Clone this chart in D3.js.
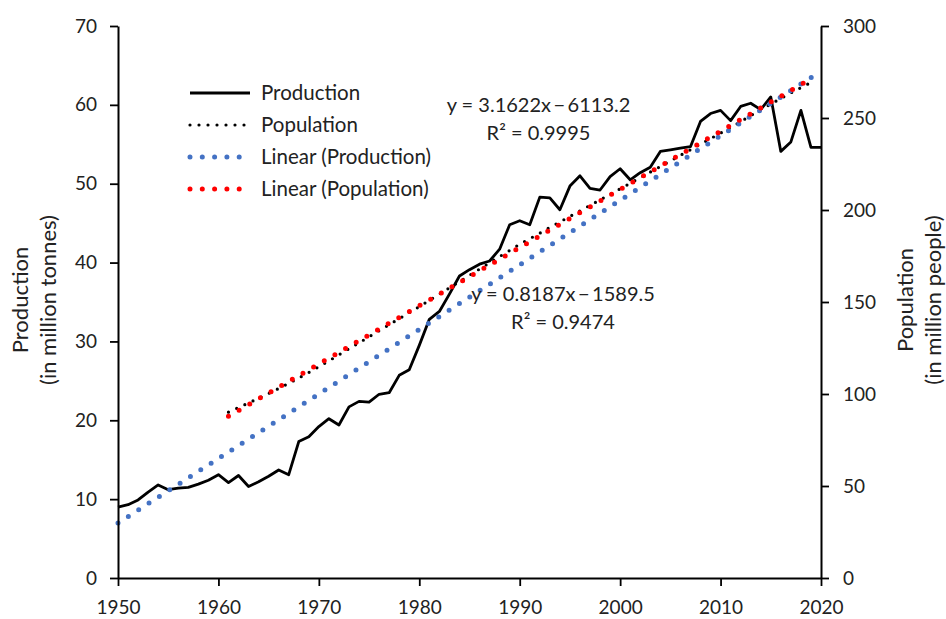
<!DOCTYPE html>
<html>
<head>
<meta charset="utf-8">
<script src="https://cdn.jsdelivr.net/npm/d3@7"></script>
<style>
  html, body { margin: 0; padding: 0; background: #fff; }
  svg text { font-family: Lato, "Open Sans", sans-serif; fill: #222; }
</style>
</head>
<body>
<svg id="chart" width="946" height="619"></svg>
<script>
// Annual production (million tonnes), 1950–2020
const prodYears = d3.range(1950, 2021);
const production = [
  9.0, 9.3, 9.9, 10.9, 11.8, 11.2, 11.4, 11.5, 11.9, 12.4,
  13.1, 12.1, 13.0, 11.6, 12.2, 12.9, 13.7, 13.1, 17.3, 17.9,
  19.2, 20.2, 19.4, 21.7, 22.4, 22.3, 23.3, 23.5, 25.7, 26.4,
  29.5, 32.8, 33.8, 36.0, 38.3, 39.1, 39.8, 40.2, 41.7, 44.8,
  45.3, 44.8, 48.3, 48.2, 46.7, 49.7, 51.0, 49.4, 49.2, 50.9,
  51.9, 50.5, 51.4, 52.1, 54.1, 54.3, 54.5, 54.7, 57.9, 58.9,
  59.3, 58.0, 59.8, 60.2, 59.4, 61.0, 54.1, 55.3, 59.3, 54.6,
  54.6
];

// Population (million people), 1961–2019
const popYears = d3.range(1961, 2020);
const population = [
  90.1, 92.6, 95.1, 97.7, 100.3, 103.0, 105.8, 108.7, 111.7,
  114.8, 118.0, 121.3, 124.6, 127.8, 131.1, 134.4, 137.7, 140.9, 144.2,
  147.5, 150.9, 154.3, 157.7, 161.1, 164.5, 167.9, 171.3, 174.7, 178.0,
  181.4, 184.4, 187.4, 190.5, 193.5, 196.5, 199.5, 202.5, 205.5, 208.5,
  211.5, 214.5, 217.6, 220.6, 223.6, 226.7, 229.7, 232.7, 235.8, 238.8,
  241.8, 244.8, 248.0, 251.3, 254.5, 257.6, 260.6, 263.6, 266.5, 269.3
];

// Linear trend coefficients (slope, intercept)
const prodTrend = { slope: 0.8187, intercept: -1589.5, r2: 0.9474, from: 1950, to: 2020 };
const popTrend  = { slope: 3.1622, intercept: -6113.2, r2: 0.9995, from: 1961, to: 2019 };

// Axis ticks
const xTicks = [1950, 1960, 1970, 1980, 1990, 2000, 2010, 2020];
const leftTicks = [0, 10, 20, 30, 40, 50, 60, 70];
const rightTicks = [0, 50, 100, 150, 200, 250, 300];

const svg = d3.select("#chart");
const x = d3.scaleLinear().domain([1950, 2020]).range([118, 821]);
const yL = d3.scaleLinear().domain([0, 70]).range([578, 26]);
const yR = d3.scaleLinear().domain([0, 300]).range([578, 26]);

// Production series
svg.append("path")
  .datum(prodYears.map((yr, i) => [yr, production[i]]))
  .attr("fill", "none").attr("stroke", "#000").attr("stroke-width", 2.8)
  .attr("stroke-linejoin", "round")
  .attr("d", d3.line().x(d => x(d[0])).y(d => yL(d[1])));

// Population series (dotted, right axis)
svg.append("path")
  .datum(popYears.map((yr, i) => [yr, population[i]]))
  .attr("fill", "none").attr("stroke", "#000").attr("stroke-width", 3.2)
  .attr("stroke-linecap", "round").attr("stroke-dasharray", "0 9")
  .attr("d", d3.line().x(d => x(d[0])).y(d => yR(d[1])));

// Trend lines
function trendLine(t, yScale, color) {
  const pts = [t.from, t.to].map(yr => [yr, t.slope * yr + t.intercept]);
  svg.append("path")
    .datum(pts)
    .attr("fill", "none").attr("stroke", color).attr("stroke-width", 5)
    .attr("stroke-linecap", "round").attr("stroke-dasharray", "0 12.3")
    .attr("d", d3.line().x(d => x(d[0])).y(d => yScale(d[1])));
}
trendLine(prodTrend, yL, "#4472C4");
trendLine(popTrend, yR, "#FF0000");

// Axes
function styleAxis(g) {
  g.selectAll(".domain").attr("stroke", "#000").attr("stroke-width", 2);
  g.selectAll(".tick line").attr("stroke", "#000").attr("stroke-width", 1.8);
  g.selectAll(".tick text").style("font-size", "19px").attr("fill", "#333")
    .style("font-family", "Lato, 'Open Sans', sans-serif");
}
svg.append("g").attr("transform", "translate(118,0)")
  .call(d3.axisLeft(yL).tickValues(leftTicks).tickSize(8).tickSizeOuter(0).tickPadding(13))
  .call(styleAxis);
svg.append("g").attr("transform", "translate(821,0)")
  .call(d3.axisRight(yR).tickValues(rightTicks).tickSize(8).tickSizeOuter(0).tickPadding(14))
  .call(styleAxis);
svg.append("g").attr("transform", "translate(0,578)")
  .call(d3.axisBottom(x).tickValues(xTicks).tickFormat(d3.format("d")).tickSize(8).tickSizeOuter(0).tickPadding(15))
  .call(styleAxis);

// Axis titles
function vTitle(cx, cy, lines) {
  const t = svg.append("text").attr("transform", `translate(${cx},${cy}) rotate(-90)`)
    .attr("text-anchor", "middle").style("font-size", "22px");
  lines.forEach((s, i) => t.append("tspan").attr("x", 0).attr("dy", i === 0 ? 0 : 28).text(s));
}
vTitle(28, 300, ["Production", "(in million tonnes)"]);
vTitle(913, 300, ["Population", "(in million people)"]);

// Legend
const legend = [
  { label: "Production", color: "#000", w: 2.8, dash: null },
  { label: "Population", color: "#000", w: 3.2, dash: "0 9" },
  { label: "Linear (Production)", color: "#4472C4", w: 5, dash: "0 12.3" },
  { label: "Linear (Population)", color: "#FF0000", w: 5, dash: "0 12.3" }
];
legend.forEach((d, i) => {
  const base = 100 + i * 32;
  svg.append("line").attr("x1", 190).attr("x2", 250).attr("y1", base - 7).attr("y2", base - 7)
    .attr("stroke", d.color).attr("stroke-width", d.w)
    .attr("stroke-linecap", d.dash ? "round" : "butt")
    .attr("stroke-dasharray", d.dash);
  svg.append("text").attr("x", 261).attr("y", base)
    .style("font-size", "20.5px").text(d.label);
});

// Trend equations
function eqLabel(t, cx, base) {
  svg.append("text").attr("x", cx).attr("y", base).attr("text-anchor", "middle")
    .style("font-size", "20px")
    .text(`y = ${t.slope}x\u2009\u2212\u2009${Math.abs(t.intercept)}`);
  svg.append("text").attr("x", cx).attr("y", base + 28.5).attr("text-anchor", "middle")
    .style("font-size", "20px").text(`R\u00b2 = ${t.r2}`);
}
eqLabel(popTrend, 538.5, 111.5);
eqLabel(prodTrend, 563, 300.5);
</script>
</body>
</html>
